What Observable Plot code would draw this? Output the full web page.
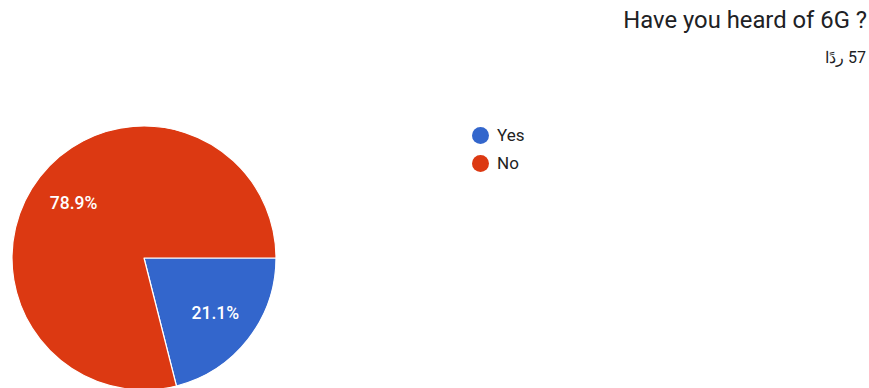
<!DOCTYPE html>
<html><head><meta charset="utf-8">
<script src="https://cdn.jsdelivr.net/npm/d3@7"></script>
<script src="https://cdn.jsdelivr.net/npm/@observablehq/plot@0.6"></script>
<style>
html,body{margin:0;padding:0;background:#fff;overflow:hidden;width:869px;height:388px;}
#wrap{position:relative;width:869px;height:388px;font-family:Roboto, Arial, sans-serif;}
#title{position:absolute;right:2px;top:9px;font-size:23.8px;line-height:1;color:#202124;white-space:nowrap;}
#sub{position:absolute;right:3px;top:50px;font-size:16px;line-height:1;color:#202124;direction:rtl;white-space:nowrap;}
#legend{position:absolute;left:472px;top:121px;font-size:17px;color:#222;}
.item{display:flex;align-items:center;height:28px;}
.sw{width:17px;height:17px;border-radius:50%;margin-right:8px;}
#chart{position:absolute;left:0;top:0;}
</style></head>
<body>
<div id="wrap">
  <div id="chart"></div>
  <div id="title"></div>
  <div id="sub"></div>
  <div id="legend"></div>
</div>
<script>
const titleText = "Have you heard of 6G ?";
const subtitleText = "57 ردًا";
const categories = ["Yes", "No"];
const counts = [12, 45];
const colors = ["#3366cc", "#dc3912"];

document.getElementById("title").textContent = titleText;
document.getElementById("sub").textContent = subtitleText;

const W = 869, H = 388;
const cx = 144, cy = 258, R = 132;
const labelR = 0.68;

const total = d3.sum(counts);
const rows = categories.map((c, i) => ({category: c, count: counts[i]}));
const arcs = d3.pie().sort(null).value(d => d.count)
  .startAngle(Math.PI / 2).endAngle(Math.PI / 2 + 2 * Math.PI)(rows);
const labelData = arcs.map(a => {
  const mid = (a.startAngle + a.endAngle) / 2;
  return {
    x: labelR * Math.sin(mid),
    y: labelR * Math.cos(mid),
    text: (a.data.count / total * 100).toFixed(1) + "%"
  };
});

const colorScale = Plot.scale({color: {type: "ordinal", domain: categories, range: colors}});

const pieMark = (index, scales, values, dimensions) => {
  const x0 = scales.x(0), y0 = scales.y(0);
  const rpx = scales.x(1) - scales.x(0);
  const arcGen = d3.arc().innerRadius(0).outerRadius(rpx);
  const g = d3.create("svg:g").attr("transform", `translate(${x0},${y0})`);
  g.selectAll("path").data(arcs).join("path")
    .attr("d", arcGen)
    .attr("fill", d => colorScale.apply(d.data.category))
    .attr("stroke", "#fff")
    .attr("stroke-width", 1.2)
    .attr("stroke-linejoin", "round");
  return g.node();
};

const chart = Plot.plot({
  width: W, height: H,
  margin: 0,
  x: {domain: [(0 - cx) / R, (W - cx) / R], axis: null},
  y: {domain: [-(H - cy) / R, cy / R], axis: null},
  style: {background: "transparent"},
  marks: [
    pieMark,
    Plot.text(labelData, {
      x: "x", y: "y", text: "text",
      fill: "#fff", fontSize: 17.5, fontWeight: 500, fontFamily: "Roboto, Arial, sans-serif",
      textAnchor: "middle", lineAnchor: "middle"
    })
  ]
});
document.getElementById("chart").appendChild(chart);

const legend = document.getElementById("legend");
categories.forEach(c => {
  const item = document.createElement("div");
  item.className = "item";
  const sw = document.createElement("span");
  sw.className = "sw";
  sw.style.background = colorScale.apply(c);
  const t = document.createElement("span");
  t.textContent = c;
  item.appendChild(sw); item.appendChild(t);
  legend.appendChild(item);
});
</script>
</body></html>
